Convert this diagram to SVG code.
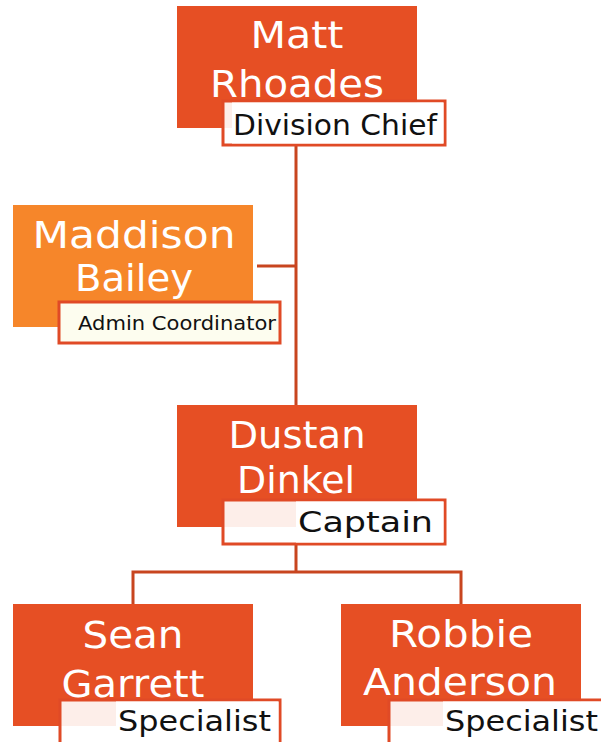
<svg xmlns="http://www.w3.org/2000/svg" width="601" height="742" viewBox="0 0 601 742">
<style>
.box{fill:#e64f24}
.box2{fill:#f6862a}
.lbl{fill:#ffffff;fill-opacity:0.9;stroke:#e04a26;stroke-width:3}
.lblc{fill:#fdfdef;stroke:#e04a26;stroke-width:3}
.tb{fill:#ffffff}
.name{font-family:"Century Gothic","DejaVu Sans",sans-serif;font-size:38px;fill:#ffffff;text-anchor:middle}
.role{font-family:"Century Gothic","DejaVu Sans",sans-serif;font-size:29px;fill:#111111;text-anchor:end}
.rsm{font-family:"Century Gothic","DejaVu Sans",sans-serif;font-size:19px;fill:#111111;text-anchor:end}
.conn{fill:none;stroke:#c8451f;stroke-width:3}
</style>
<rect width="601" height="742" fill="#ffffff"/>
<g id="connectors">
<path class="conn" d="M296,146 V405"/>
<path class="conn" d="M257,266 H296"/>
<path class="conn" d="M296,545 V572 M133,572 H461 M133,570.5 V604 M461,570.5 V604"/>
</g>
<g id="matt">
<rect class="box" x="177" y="6" width="240" height="122"/>
<text class="name" x="297" y="48" textLength="93" lengthAdjust="spacingAndGlyphs">Matt</text>
<text class="name" x="297" y="97" textLength="174" lengthAdjust="spacingAndGlyphs">Rhoades</text>
<rect class="lbl" x="223" y="101" width="222" height="44"/>
<rect class="tb" x="232" y="102.5" width="211.5" height="41"/>
<text class="role" x="437" y="135" textLength="204" lengthAdjust="spacingAndGlyphs">Division Chief</text>
</g>
<g id="maddison">
<rect class="box2" x="13" y="205" width="240" height="122"/>
<text class="name" x="134" y="248" textLength="203" lengthAdjust="spacingAndGlyphs">Maddison</text>
<text class="name" x="134" y="291" textLength="118" lengthAdjust="spacingAndGlyphs">Bailey</text>
<rect class="lblc" x="59" y="302" width="221" height="41"/>
<text class="rsm" x="276" y="330" textLength="198" lengthAdjust="spacingAndGlyphs">Admin Coordinator</text>
</g>
<g id="dustan">
<rect class="box" x="177" y="405" width="240" height="122"/>
<text class="name" x="297" y="448" textLength="137" lengthAdjust="spacingAndGlyphs">Dustan</text>
<text class="name" x="296" y="493" textLength="118" lengthAdjust="spacingAndGlyphs">Dinkel</text>
<rect class="lbl" x="223" y="500" width="222" height="44"/>
<rect class="tb" x="296" y="501.5" width="147.5" height="41"/>
<text class="role" x="433" y="532" textLength="135" lengthAdjust="spacingAndGlyphs">Captain</text>
</g>
<g id="sean">
<rect class="box" x="13" y="604" width="240" height="122"/>
<text class="name" x="133" y="648" textLength="101" lengthAdjust="spacingAndGlyphs">Sean</text>
<text class="name" x="133" y="697" textLength="143" lengthAdjust="spacingAndGlyphs">Garrett</text>
<rect class="lbl" x="60" y="700" width="220" height="46"/>
<rect class="tb" x="116" y="701.5" width="162.5" height="44"/>
<text class="role" x="271" y="731" textLength="153" lengthAdjust="spacingAndGlyphs">Specialist</text>
</g>
<g id="robbie">
<rect class="box" x="341" y="604" width="240" height="122"/>
<text class="name" x="461" y="647" textLength="144" lengthAdjust="spacingAndGlyphs">Robbie</text>
<text class="name" x="460" y="695" textLength="194" lengthAdjust="spacingAndGlyphs">Anderson</text>
<rect class="lbl" x="389" y="700" width="224" height="46"/>
<rect class="tb" x="443" y="701.5" width="170" height="44"/>
<text class="role" x="598" y="731" textLength="153" lengthAdjust="spacingAndGlyphs">Specialist</text>
</g>
</svg>
